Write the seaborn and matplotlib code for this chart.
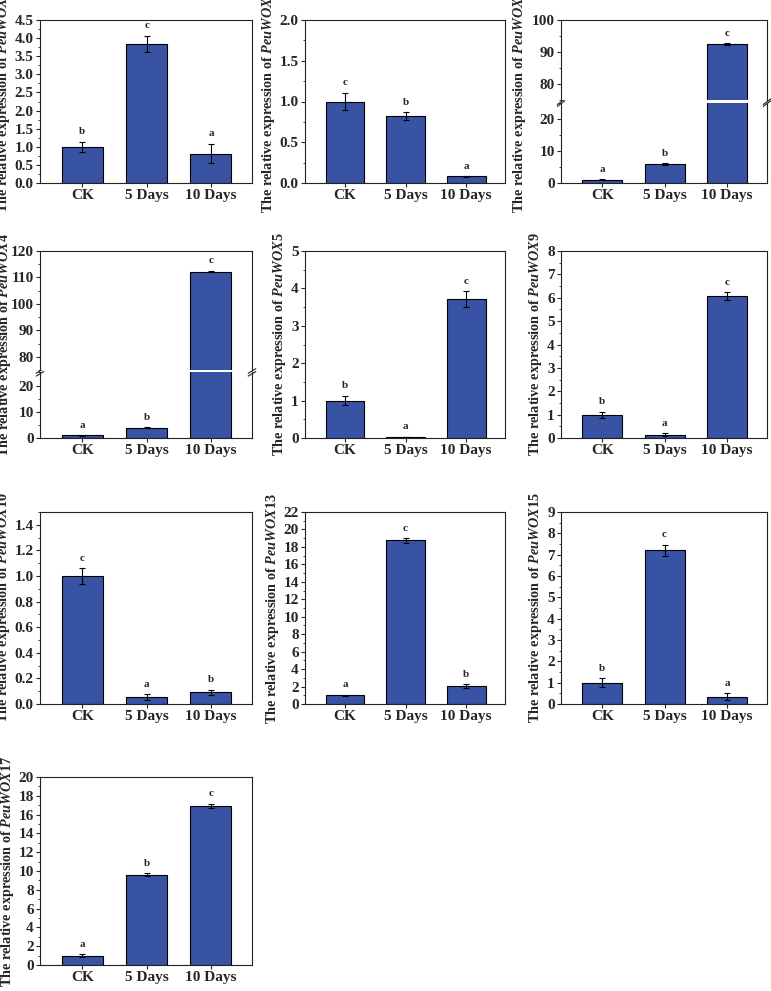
import numpy as np
import pandas as pd
import matplotlib
matplotlib.use("Agg")
import matplotlib.pyplot as plt
from matplotlib.ticker import MultipleLocator, AutoMinorLocator
import seaborn as sns

sns.set_style("ticks")
plt.rcParams["font.family"] = ["Liberation Serif", "DejaVu Serif"]
plt.rcParams["font.weight"] = "bold"
plt.rcParams["axes.labelweight"] = "bold"
plt.rcParams["mathtext.fontset"] = "custom"
plt.rcParams["mathtext.it"] = "Liberation Serif:italic:bold"
plt.rcParams["mathtext.rm"] = "Liberation Serif:bold"

# ── Data (qRT-PCR relative expression) ──────────────────────────────────────
CATEGORIES = ["CK", "5 Days", "10 Days"]
GENES = ["PeuWOX1", "PeuWOX2", "PeuWOX3", "PeuWOX4", "PeuWOX5",
         "PeuWOX9", "PeuWOX10", "PeuWOX13", "PeuWOX15", "PeuWOX17"]
MEANS = [
    [1.00, 3.84, 0.81],
    [1.00, 0.82, 0.08],
    [1.00, 5.90, 92.5],
    [1.00, 4.00, 112.2],
    [1.00, 0.03, 3.71],
    [1.00, 0.14, 6.06],
    [1.00, 0.055, 0.09],
    [1.00, 18.75, 2.05],
    [1.00, 7.20, 0.35],
    [1.00, 9.60, 16.90],
]
ERRORS = [
    [0.14, 0.22, 0.27],
    [0.11, 0.05, 0.005],
    [0.10, 0.20, 0.30],
    [0.10, 0.10, 0.30],
    [0.13, 0.01, 0.21],
    [0.13, 0.06, 0.17],
    [0.06, 0.02, 0.02],
    [0.06, 0.25, 0.22],
    [0.20, 0.27, 0.15],
    [0.12, 0.15, 0.25],
]
LETTERS = [
    ["b", "c", "a"],
    ["c", "b", "a"],
    ["a", "b", "c"],
    ["a", "b", "c"],
    ["b", "a", "c"],
    ["b", "a", "c"],
    ["c", "a", "b"],
    ["a", "c", "b"],
    ["b", "c", "a"],
    ["a", "b", "c"],
]
YMAX = [4.5, 2.0, None, None, 5, 8, 1.5, 22, 9, 20]
YSTEP = [0.5, 0.5, 10, 10, 1, 1, 0.2, 2, 1, 2]
# broken axis panels: (lower range, upper range)
BREAKS = {2: ((0, 25), (75, 100)), 3: ((0, 25), (75, 120))}

BAR_COLOR = "#3953a4"
W, H = 771, 991
COLS = [(40, 252), (305, 505), (561, 767)]
ROWS = [(20, 183), (251, 438), (512, 704), (777, 965)]
LABEL_SIZE = 10.3

fig = plt.figure(figsize=(W / 100, H / 100), dpi=100)


def px_axes(x0, x1, y0, y1):
    return fig.add_axes([x0 / W, 1 - y1 / H, (x1 - x0) / W, (y1 - y0) / H])


def style_axes(ax):
    for s in ax.spines.values():
        s.set_linewidth(0.8)
        s.set_color("#222222")
    ax.tick_params(axis="both", which="major", direction="out", length=3,
                   width=0.8, labelsize=11, pad=1.5)
    ax.tick_params(axis="y", which="minor", direction="out", length=1.8, width=0.6)
    ax.tick_params(axis="x", which="minor", length=0)
    ax.yaxis.set_minor_locator(AutoMinorLocator(2))


def draw_bars(ax, means, errs):
    df = pd.DataFrame({"cat": CATEGORIES, "val": means})
    sns.barplot(data=df, x="cat", y="val", ax=ax, color=BAR_COLOR, saturation=1,
                width=0.64, edgecolor="black", linewidth=0.8, errorbar=None)
    ax.errorbar(range(len(means)), means, yerr=errs, fmt="none", ecolor="black",
                elinewidth=0.8, capsize=2.5, capthick=0.8)
    ax.set_xlim(-0.66, 2.64)
    ax.set_xlabel("")
    ax.set_ylabel("")


def add_letters(ax, means, errs, letters, only=None):
    for i, (m, e, t) in enumerate(zip(means, errs, letters)):
        if only is not None and i not in only:
            continue
        ax.annotate(t, (i, m + e), xytext=(0, 4), textcoords="offset points",
                    ha="center", va="bottom", fontsize=8, fontweight="bold")


def ylabel_text(gene):
    return "The relative expression of $\\mathit{" + gene + "}$"


for k, gene in enumerate(GENES):
    r, c = divmod(k, 3)
    x0, x1 = COLS[c]
    y0, y1 = ROWS[r]
    means, errs, letters = MEANS[k], ERRORS[k], LETTERS[k]

    if k in BREAKS:
        (lo0, lo1), (up0, up1) = BREAKS[k]
        span = (lo1 - lo0) + (up1 - up0)
        ymid = y1 - (y1 - y0) * (lo1 - lo0) / span
        gap = 1.2
        ax_lo = px_axes(x0, x1, ymid + gap, y1)
        ax_up = px_axes(x0, x1, y0, ymid - gap)
        for ax in (ax_lo, ax_up):
            draw_bars(ax, means, errs)
            style_axes(ax)
            ax.yaxis.set_major_locator(MultipleLocator(YSTEP[k]))
        ax_lo.set_ylim(lo0, lo1)
        ax_up.set_ylim(up0, up1)
        ax_lo.spines["top"].set_visible(False)
        ax_up.spines["bottom"].set_visible(False)
        ax_up.tick_params(axis="x", which="both", bottom=False, labelbottom=False)
        lo_ticks = [t for t in np.arange(lo0, lo1 + 0.1, YSTEP[k]) if t <= lo1 - 3]
        ax_lo.set_yticks(lo_ticks)
        ax_up.set_yticks(np.arange(80, up1 + 0.1, YSTEP[k]))
        add_letters(ax_lo, means, errs, letters, only=[0, 1])
        add_letters(ax_up, means, errs, letters, only=[2])
        # break marks on both side spines
        dx, dy = 0.018, 0.035
        hl = (ymid - y0) / (y1 - ymid)
        for xb in (0, 1):
            for off in (-0.012, 0.012):
                ax_lo.plot([xb - dx, xb + dx], [1 + off * hl - dy, 1 + off * hl + dy],
                           transform=ax_lo.transAxes, color="#222222", lw=0.8,
                           clip_on=False)
        lab_x = {2: 519, 3: 5}[k]
        fig.text(lab_x / W, 1 - (y0 + y1) / 2 / H, ylabel_text(gene), rotation=90,
                 ha="center", va="center", fontsize=LABEL_SIZE, fontweight="bold")
    else:
        ax = px_axes(x0, x1, y0, y1)
        draw_bars(ax, means, errs)
        style_axes(ax)
        ax.set_ylim(0, YMAX[k])
        ax.yaxis.set_major_locator(MultipleLocator(YSTEP[k]))
        if k == 6:
            ax.set_yticks(np.arange(0, 1.41, 0.2))
            ax.yaxis.set_minor_locator(AutoMinorLocator(2))
        ax.yaxis.set_major_formatter(
            plt.FormatStrFormatter("%.1f" if YSTEP[k] < 1 else "%d"))
        add_letters(ax, means, errs, letters)
        ax.set_ylabel(ylabel_text(gene), fontsize=LABEL_SIZE, labelpad=2)

plt.savefig("out.png", dpi=100)
